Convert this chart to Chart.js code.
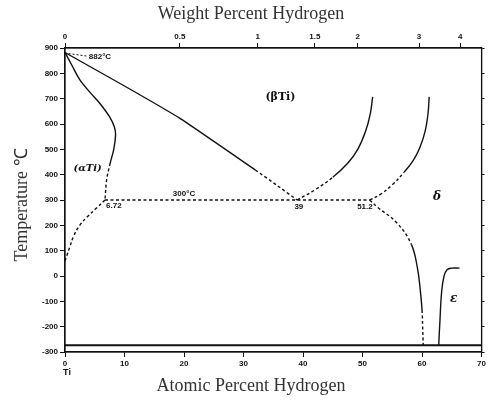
<!DOCTYPE html>
<html>
<head>
<meta charset="utf-8">
<script src="https://cdn.jsdelivr.net/npm/chart.js@4"></script>
<style>
  html, body { margin: 0; padding: 0; background: #fff; }
  #wrap { width: 488px; height: 400px; }
</style>
</head>
<body>
<div id="wrap"><canvas id="chart" width="488" height="400"></canvas></div>
<script>
/* ===== data (x = atomic % H, T = deg C) ===== */
const atTicks = [0, 10, 20, 30, 40, 50, 60, 70];
const tempTicks = [-300, -200, -100, 0, 100, 200, 300, 400, 500, 600, 700, 800, 900];
// weight % labels on top axis and where they fall in atomic %
const wtLabels = ["0", "0.5", "1", "1.5", "2", "3", "4"];
const wtAtPos = [0, 19.3, 32.4, 42.0, 49.2, 59.5, 66.4];

// beta transus (alpha+beta / beta)
const transusX = [0, 10, 19.2, 32, 35.5, 39];
const transusT = [882, 750, 624, 418, 360, 300];

// alpha / alpha+beta, above the eutectoid
const alphaX = [0, 1.2, 2.5, 4.2, 5.8, 7.5, 8.3, 8.5, 8.2, 7.6, 7.0, 6.72];
const alphaT = [882, 830, 774, 725, 683, 628, 588, 557, 501, 446, 380, 300];
// alpha solvus below the eutectoid
const alphaLowX = [6.72, 5.3, 3.8, 2.5, 1.5, 0.8, 0.3, 0];
const alphaLowT = [300, 268, 235, 201, 160, 114, 80, 60];

// eutectoid isotherm
const eutX = [6.72, 39, 51.2];
const eutT = [300, 300, 300];

// beta / beta+delta
const betaX = [39, 42, 45, 47.5, 49.2, 50.5, 51.3, 51.7];
const betaT = [300, 340, 390, 445, 500, 570, 640, 707];

// beta+delta / delta
const deltaX = [51.2, 53, 55, 57, 58.5, 59.6, 60.5, 61, 61.2];
const deltaT = [300, 322, 360, 410, 455, 505, 570, 640, 707];

// delta lower boundary
const deltaLowX = [51.2, 52.5, 55.8, 58.2, 59.2, 59.7, 60, 60.1, 60.2];
const deltaLowT = [300, 272, 209, 125, 35, -55, -134, -200, -273];

// epsilon
const epsX = [62.8, 63.0, 63.3, 63.7, 64.2, 65, 66.3];
const epsT = [-273, -180, -60, 0, 25, 31, 31];

// absolute zero line
const zeroX = [0, 70];
const zeroT = [-273, -273];

/* ===== helpers ===== */
const ink = "#111";
const dash = [3, 2.5];
const pts = (xs, ts) => xs.map((x, i) => ({ x: x, y: ts[i] }));

// isDashed(i) says whether the segment starting at point i is dashed
function line(xs, ts, isDashed, width, tension) {
  return {
    data: pts(xs, ts),
    borderColor: ink,
    borderWidth: width || 1.4,
    pointRadius: 0,
    tension: tension === undefined ? 0.4 : tension,
    fill: false,
    segment: { borderDash: ctx => (isDashed && isDashed(ctx.p0DataIndex)) ? dash : [] }
  };
}
const all = () => true;

const tickFont = { family: "Liberation Sans", size: 8, weight: "bold" };

/* ===== text annotations ===== */
const notes = {
  id: "notes",
  afterDatasetsDraw(chart) {
    const c = chart.ctx, xs = chart.scales.x, ys = chart.scales.y;
    const px = v => xs.getPixelForValue(v), py = v => ys.getPixelForValue(v);
    c.save();
    c.fillStyle = ink;
    c.textAlign = "center";
    c.textBaseline = "middle";

    function txt(s, x, t, font) { c.font = font; c.fillText(s, px(x), py(t)); }
    txt("(βTi)", 36.2, 707, "bold 11px 'DejaVu Serif'");
    txt("(αTi)", 3.8, 426, "bold italic 10px 'DejaVu Serif'");
    txt("300°C", 20, 324, "bold 8px 'Liberation Sans'");
    txt("6.72", 8.2, 276, "bold 8px 'Liberation Sans'");
    txt("39", 39.3, 272, "bold 8px 'Liberation Sans'");
    txt("51.2", 50.4, 272, "bold 8px 'Liberation Sans'");
    txt("δ", 62.5, 312, "bold italic 12px 'DejaVu Serif'");
    txt("ε", 65.3, -91, "bold italic 12px 'DejaVu Serif'");
    c.textAlign = "left";
    txt("882°C", 4.0, 866, "bold 8px 'Liberation Sans'");

    // leader to 882 C
    c.strokeStyle = ink;
    c.lineWidth = 1;
    c.setLineDash([2, 2]);
    c.beginPath();
    c.moveTo(px(0.6), py(878));
    c.lineTo(px(3.7), py(868));
    c.stroke();
    c.setLineDash([]);

    // axis titles
    c.fillStyle = "#333";
    c.textAlign = "center";
    c.font = "18px 'Liberation Serif'";
    c.fillText("Weight Percent Hydrogen", 251, 14);
    c.fillText("Atomic Percent Hydrogen", 251, 386);
    c.save();
    c.translate(22, 205);
    c.rotate(-Math.PI / 2);
    c.fillText("Temperature ℃", 0, 0);
    c.restore();

    c.fillStyle = ink;
    c.font = "bold 9px 'Liberation Sans'";
    c.fillText("Ti", px(0) + 2, 373);

    // frame
    const a = chart.chartArea;
    c.strokeStyle = ink;
    c.lineWidth = 1.2;
    c.strokeRect(a.left, a.top, a.right - a.left, a.bottom - a.top);
    c.restore();
  }
};

new Chart(document.getElementById("chart"), {
  type: "line",
  data: {
    datasets: [
      line(transusX, transusT, i => i >= 3, 1.4, 0.15),
      line(alphaX, alphaT, i => i >= 9, 1.4, 0.35),
      line(alphaLowX, alphaLowT, all),
      line(eutX, eutT, all, 1.4, 0),
      line(betaX, betaT, i => i < 2),
      line(deltaX, deltaT, i => i < 3),
      line(deltaLowX, deltaLowT, i => i < 3 || i >= 6),
      line(epsX, epsT, null),
      line(zeroX, zeroT, null, 2, 0)
    ]
  },
  options: {
    responsive: false,
    animation: false,
    layout: { padding: 0 },
    plugins: { legend: { display: false }, tooltip: { enabled: false } },
    scales: {
      x: {
        type: "linear", position: "bottom", min: 0, max: 70,
        afterBuildTicks: s => { s.ticks = atTicks.map(v => ({ value: v })); },
        afterFit: s => { s.height = 48; },
        grid: { drawOnChartArea: false, tickLength: 5, color: ink },
        border: { color: ink, width: 1.2 },
        ticks: { font: tickFont, color: ink, padding: 2, autoSkip: false, maxRotation: 0 }
      },
      xTop: {
        type: "linear", position: "top", min: 0, max: 70,
        afterBuildTicks: s => { s.ticks = wtAtPos.map(v => ({ value: v })); },
        afterFit: s => { s.height = 48; },
        grid: { drawOnChartArea: false, tickLength: 5, color: ink },
        border: { color: ink, width: 1.2 },
        ticks: {
          font: tickFont, color: ink, padding: 1, autoSkip: false, maxRotation: 0,
          callback: (v, i) => wtLabels[i]
        }
      },
      y: {
        type: "linear", position: "left", min: -300, max: 900,
        afterBuildTicks: s => { s.ticks = tempTicks.map(v => ({ value: v })); },
        afterFit: s => { s.width = 65; },
        grid: { drawOnChartArea: false, tickLength: 5, color: ink },
        border: { color: ink, width: 1.2 },
        ticks: { font: tickFont, color: ink, padding: 2, autoSkip: false }
      },
      yRight: {
        type: "linear", position: "right", min: -300, max: 900,
        afterBuildTicks: s => { s.ticks = tempTicks.map(v => ({ value: v })); },
        afterFit: s => { s.width = 3; },
        grid: { drawOnChartArea: false, tickLength: 3, color: ink },
        border: { color: ink, width: 1.2 },
        ticks: { display: false }
      }
    }
  },
  plugins: [notes]
});
</script>
</body>
</html>
